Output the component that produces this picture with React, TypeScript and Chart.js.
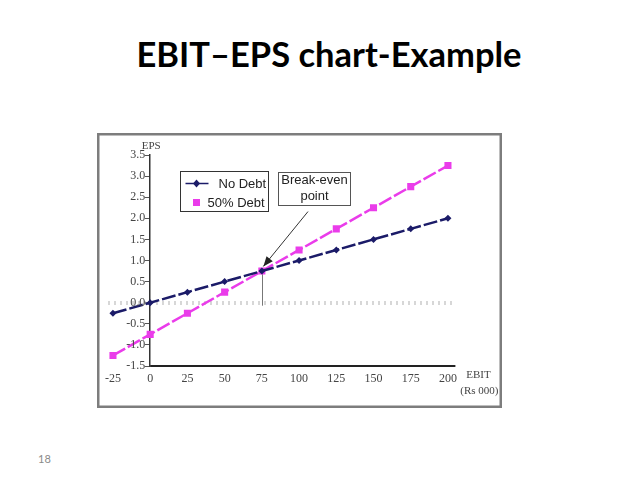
import React, { useEffect, useRef } from "react";
import { Chart, registerables } from "chart.js";

Chart.register(...registerables);

// ---- data ----
const ebitValues = [-25, 0, 25, 50, 75, 100, 125, 150, 175, 200];
const epsNoDebt = [-0.25, 0, 0.25, 0.5, 0.75, 1.0, 1.25, 1.5, 1.75, 2.0];
const epsHalfDebt = [-1.25, -0.75, -0.25, 0.25, 0.75, 1.25, 1.75, 2.25, 2.75, 3.25];
const seriesNames = ["No Debt", "50% Debt"];
const xTicks = [-25, 0, 25, 50, 75, 100, 125, 150, 175, 200];
const yTicks = [-1.5, -1.0, -0.5, 0.0, 0.5, 1.0, 1.5, 2.0, 2.5, 3.0, 3.5];
const breakEven = { ebit: 75, eps: 0.75 };
const arrowFrom = { ebit: 106, eps: 2.16 };
const arrowTo = { ebit: 76, eps: 0.86 };
const noteAnchor = { ebit: 86, eps: 3.1 };
const noteLines = ["Break-even", "point"];
const legendAnchor = { ebit: 20, eps: 3.13 };
const titleText = "EBIT\u2013EPS chart-Example";
const yAxisTitle = "EPS";
const xAxisTitle = ["EBIT", "(Rs 000)"];
const pageNumber = "18";

const NAVY = "#1b1b68";
const MAGENTA = "#ea3cea";
const SERIF = "'Liberation Serif', 'Times New Roman', serif";
const SANS = "'Liberation Sans', Arial, sans-serif";

const decorPlugin = {
  id: "decor",
  beforeDatasetsDraw(chart: any) {
    const { ctx, scales } = chart;
    const x = scales.x, y = scales.y;
    // drop line from break-even point to zero line
    ctx.save();
    ctx.strokeStyle = "#777";
    ctx.lineWidth = 1;
    const bx = Math.round(x.getPixelForValue(breakEven.ebit)) + 0.5;
    ctx.beginPath();
    ctx.moveTo(bx, y.getPixelForValue(breakEven.eps));
    ctx.lineTo(bx, y.getPixelForValue(0) + 3);
    ctx.stroke();
    ctx.restore();
  },
  afterDraw(chart: any) {
    const { ctx, scales, chartArea, width, height } = chart;
    const x = scales.x, y = scales.y;
    ctx.save();
    // outer frame
    ctx.strokeStyle = "#7d7d7d";
    ctx.lineWidth = 2.5;
    ctx.strokeRect(1.25, 1.25, width - 2.5, height - 2.5);

    // bottom axis line starting at x = 0
    ctx.strokeStyle = "#222";
    ctx.lineWidth = 2;
    ctx.beginPath();
    ctx.moveTo(x.getPixelForValue(0), chartArea.bottom);
    ctx.lineTo(chartArea.right, chartArea.bottom);
    ctx.stroke();

    // y tick labels, to the left of the axis crossing at x = 0
    const x0 = x.getPixelForValue(0);
    ctx.fillStyle = "#444";
    ctx.font = `12px ${SERIF}`;
    ctx.textAlign = "right";
    ctx.textBaseline = "middle";
    for (const v of yTicks) {
      ctx.fillText(v.toFixed(1), x0 - 5, y.getPixelForValue(v));
    }

    // axis titles
    ctx.font = `11px ${SERIF}`;
    ctx.textAlign = "center";
    ctx.fillText(yAxisTitle, x0 + 1, chartArea.top - 9);
    ctx.fillText(xAxisTitle[0], chartArea.right + 23, chartArea.bottom + 9);
    ctx.fillText(xAxisTitle[1], chartArea.right + 24, chartArea.bottom + 25);

    // arrow
    const ax1 = x.getPixelForValue(arrowFrom.ebit), ay1 = y.getPixelForValue(arrowFrom.eps);
    const ax2 = x.getPixelForValue(arrowTo.ebit), ay2 = y.getPixelForValue(arrowTo.eps);
    ctx.strokeStyle = "#333";
    ctx.lineWidth = 1;
    ctx.beginPath();
    ctx.moveTo(ax1, ay1);
    ctx.lineTo(ax2, ay2);
    ctx.stroke();
    const ang = Math.atan2(ay2 - ay1, ax2 - ax1);
    const hl = 10, hw = 4;
    ctx.fillStyle = "#222";
    ctx.beginPath();
    ctx.moveTo(ax2, ay2);
    ctx.lineTo(ax2 - hl * Math.cos(ang) + hw * Math.sin(ang), ay2 - hl * Math.sin(ang) - hw * Math.cos(ang));
    ctx.lineTo(ax2 - hl * Math.cos(ang) - hw * Math.sin(ang), ay2 - hl * Math.sin(ang) + hw * Math.cos(ang));
    ctx.closePath();
    ctx.fill();

    // break-even note box
    const nx = Math.round(x.getPixelForValue(noteAnchor.ebit)) + 0.5;
    const ny = Math.round(y.getPixelForValue(noteAnchor.eps)) + 0.5;
    const nw = 72, nh = 33;
    ctx.fillStyle = "#fff";
    ctx.fillRect(nx, ny, nw, nh);
    ctx.strokeStyle = "#555";
    ctx.lineWidth = 1;
    ctx.strokeRect(nx, ny, nw, nh);
    ctx.fillStyle = "#222";
    ctx.font = `13px ${SANS}`;
    ctx.textAlign = "center";
    ctx.fillText(noteLines[0], nx + nw / 2, ny + 8);
    ctx.fillText(noteLines[1], nx + nw / 2, ny + 24);

    // legend box
    const lx = Math.round(x.getPixelForValue(legendAnchor.ebit)) + 0.5;
    const ly = Math.round(y.getPixelForValue(legendAnchor.eps)) + 0.5;
    const lw = 88, lh = 40;
    ctx.fillStyle = "#fff";
    ctx.fillRect(lx, ly, lw, lh);
    ctx.strokeStyle = "#333";
    ctx.strokeRect(lx, ly, lw, lh);
    const ds = chart.data.datasets;
    // row 1
    const r1 = ly + 12;
    ctx.strokeStyle = ds[0].borderColor;
    ctx.lineWidth = 1.5;
    ctx.beginPath();
    ctx.moveTo(lx + 5, r1);
    ctx.lineTo(lx + 28, r1);
    ctx.stroke();
    ctx.fillStyle = ds[0].borderColor;
    ctx.beginPath();
    ctx.moveTo(lx + 16, r1 - 4);
    ctx.lineTo(lx + 19.5, r1);
    ctx.lineTo(lx + 16, r1 + 4);
    ctx.lineTo(lx + 12.5, r1);
    ctx.closePath();
    ctx.fill();
    ctx.fillStyle = "#222";
    ctx.font = `13px ${SANS}`;
    ctx.textAlign = "left";
    ctx.fillText(ds[0].label, lx + 38, r1 + 1);
    // row 2
    const r2 = ly + 31;
    ctx.fillStyle = ds[1].borderColor;
    ctx.fillRect(lx + 12.5, r2 - 3.5, 7, 7);
    ctx.fillStyle = "#222";
    ctx.fillText(ds[1].label, lx + 27, r2 + 1);
    ctx.restore();
  },
};

export default function App() {
  const ref = useRef<HTMLCanvasElement | null>(null);
  useEffect(() => {
    if (!ref.current) return;
    const chart = new Chart(ref.current, {
      type: "line",
      data: {
        datasets: [
          {
            label: seriesNames[0],
            data: ebitValues.map((v, i) => ({ x: v, y: epsNoDebt[i] })),
            borderColor: NAVY,
            backgroundColor: NAVY,
            borderWidth: 2.5,
            borderDash: [14, 3],
            pointStyle: "rectRot",
            pointRadius: 3.5,
            pointBorderWidth: 0,
          },
          {
            label: seriesNames[1],
            data: ebitValues.map((v, i) => ({ x: v, y: epsHalfDebt[i] })),
            borderColor: MAGENTA,
            backgroundColor: MAGENTA,
            borderWidth: 2.5,
            borderDash: [14, 3],
            pointStyle: "rect",
            pointRadius: 5,
            pointBorderWidth: 0,
          },
        ],
      },
      options: {
        animation: false,
        responsive: false,
        events: [],
        layout: { padding: { left: 11.5, right: 46.6, top: 22, bottom: 15.6 } },
        plugins: { legend: { display: false }, tooltip: { enabled: false }, title: { display: false } },
        scales: {
          x: {
            type: "linear",
            min: -28,
            max: 205,
            afterBuildTicks: (s: any) => {
              s.ticks = xTicks.map((v) => ({ value: v }));
            },
            grid: { display: false, drawTicks: false },
            border: { display: false },
            ticks: {
              padding: 6,
              color: "#444",
              font: { family: SERIF, size: 12 },
              callback: (v: any) => String(v),
            },
          },
          y: {
            type: "linear",
            min: -1.5,
            max: 3.5,
            position: { x: 0 } as any,
            afterBuildTicks: (s: any) => {
              s.ticks = yTicks.map((v) => ({ value: v }));
            },
            grid: {
              drawOnChartArea: true,
              color: (c: any) => (c.tick && c.tick.value === 0 ? "#b0b0b0" : "rgba(0,0,0,0)"),
              lineWidth: (c: any) => (c.tick && c.tick.value === 0 ? 4 : 1),
              tickColor: "#555",
              tickWidth: 1,
              tickLength: 4,
            },
            border: {
              display: true,
              color: "#333",
              width: 1.5,
              dash: (c: any) => (c.tick && c.tick.value === 0 ? [1, 5] : []),
            } as any,
            ticks: { display: false },
          },
        },
      },
      plugins: [decorPlugin],
    } as any);
    return () => chart.destroy();
  }, []);

  return (
    <div style={{ position: "absolute", left: 0, top: 0, width: 638, height: 479, background: "#fff" }}>
      <div
        style={{
          position: "absolute",
          left: 0,
          width: 658,
          top: 33,
          textAlign: "center",
          fontFamily: "Lato, 'Open Sans', sans-serif",
          fontWeight: 700,
          fontSize: 34.5,
          lineHeight: 1.2,
          color: "#000",
          whiteSpace: "nowrap",
        }}
      >
        {titleText}
      </div>
      <canvas ref={ref} width={405} height={275} style={{ position: "absolute", left: 97, top: 133, width: 405, height: 275 }} />
      <div
        style={{
          position: "absolute",
          left: 38,
          top: 452,
          fontFamily: "Lato, sans-serif",
          fontSize: 11,
          color: "#8a8a8a",
        }}
      >
        {pageNumber}
      </div>
    </div>
  );
}
